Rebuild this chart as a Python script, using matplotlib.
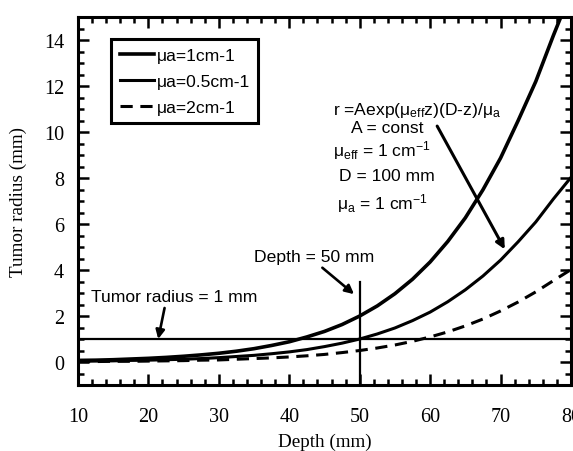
import matplotlib.pyplot as plt
from matplotlib.ticker import MultipleLocator

plt.rcParams['font.family'] = 'Liberation Serif'
plt.rcParams['mathtext.fontset'] = 'custom'
plt.rcParams['mathtext.rm'] = 'Liberation Sans'
plt.rcParams['mathtext.it'] = 'Liberation Sans'

depth = [10, 12.5, 15, 17.5, 20, 22.5, 25, 27.5, 30, 32.5, 35, 37.5, 40, 42.5, 45,
         47.5, 50, 52.5, 55, 57.5, 60, 62.5, 65, 67.5, 70, 72.5, 75, 77.5, 80]
r_mua1 = [0.07, 0.08, 0.10, 0.13, 0.16, 0.20, 0.25, 0.31, 0.38, 0.47, 0.58, 0.72, 0.88,
          1.09, 1.33, 1.63, 2.0, 2.44, 2.97, 3.60, 4.35, 5.24, 6.27, 7.49, 8.87, 10.5,
          12.2, 14.2, 16.1]
r_mua05 = [0.03, 0.04, 0.05, 0.07, 0.08, 0.10, 0.12, 0.15, 0.19, 0.24, 0.29, 0.36, 0.44,
           0.54, 0.67, 0.82, 1.0, 1.22, 1.48, 1.80, 2.17, 2.62, 3.14, 3.74, 4.43, 5.23,
           6.09, 7.09, 8.03]
r_mua2 = [0.02, 0.02, 0.03, 0.03, 0.04, 0.05, 0.06, 0.08, 0.09, 0.12, 0.15, 0.18, 0.22,
          0.27, 0.33, 0.41, 0.5, 0.61, 0.74, 0.90, 1.09, 1.31, 1.57, 1.87, 2.22, 2.61,
          3.05, 3.54, 4.02]
series_labels = ['μa=1cm-1', 'μa=0.5cm-1', 'μa=2cm-1']
tumor_radius = 1
depth_mark = 50

fig = plt.figure(figsize=(5.73, 4.52), dpi=100)
ax = fig.add_axes([0.136, 0.146, 0.8605, 0.814])

ax.plot(depth, r_mua1, '-', color='k', linewidth=2.6, label=series_labels[0])
ax.plot(depth, r_mua05, '-', color='k', linewidth=2.2, label=series_labels[1])
ax.plot(depth, r_mua2, '--', color='k', linewidth=2.2, dashes=(4, 2.5), label=series_labels[2])

ax.axhline(tumor_radius, color='k', linewidth=1.6)
ax.plot([depth_mark, depth_mark], [-1, 3.5], color='k', linewidth=1.6)

ax.set_xlim(10, 80)
ax.set_ylim(-1, 15)
ax.xaxis.set_major_locator(MultipleLocator(10))
ax.xaxis.set_minor_locator(MultipleLocator(2))
ax.yaxis.set_major_locator(MultipleLocator(2))
ax.yaxis.set_minor_locator(MultipleLocator(0.5))
ax.tick_params(which='both', direction='in', top=True, right=True, width=1.8, labelsize=14.5)
ax.tick_params(which='major', length=8)
ax.tick_params(which='minor', length=4.5)
ax.tick_params(axis='x', which='major', pad=16)
ax.tick_params(axis='y', which='major', pad=10)
for s in ax.spines.values():
    s.set_linewidth(2.2)

ax.set_xlabel('Depth (mm)', fontsize=13.8, labelpad=5)
ax.set_ylabel('Tumor radius (mm)', fontsize=13.8, labelpad=12)

sans = 'Liberation Sans'
fs = 12.6
arrow = dict(arrowstyle='-|>', color='k', lw=1.9, mutation_scale=13, shrinkA=0, shrinkB=0)

ax.text(23.7, 2.87, 'Tumor radius = 1 mm', ha='center', va='center', fontsize=fs, family=sans)
ax.annotate('', xy=(21.4, 1.0), xytext=(22.3, 2.35), arrowprops=arrow)

ax.text(43.5, 4.6, 'Depth = 50 mm', ha='center', va='center', fontsize=fs, family=sans)
ax.annotate('', xy=(49.2, 2.95), xytext=(44.7, 4.1), arrowprops=arrow)

ax.text(58.2, 11.0, r'r =Aexp($\mathrm{\mu_{eff}}$z)(D-z)/$\mathrm{\mu_a}$',
        ha='center', va='center', fontsize=fs, family=sans)
ax.text(53.9, 10.2, 'A = const', ha='center', va='center', fontsize=fs, family=sans)
ax.text(53.2, 9.26, r'$\mathrm{\mu_{eff}}$ = 1 cm$^{\mathrm{-1}}$',
        ha='center', va='center', fontsize=fs, family=sans)
ax.text(53.9, 8.1, 'D = 100 mm', ha='center', va='center', fontsize=fs, family=sans)
ax.text(53.2, 6.95, r'$\mathrm{\mu_a}$ = 1 cm$^{\mathrm{-1}}$',
        ha='center', va='center', fontsize=fs, family=sans)
ax.annotate('', xy=(70.6, 4.9), xytext=(61.0, 10.26),
            arrowprops=dict(arrowstyle='-|>', color='k', lw=2.2, mutation_scale=13,
                            shrinkA=0, shrinkB=0))

leg = ax.legend(loc='upper left', bbox_to_anchor=(0.067, 0.94),
                prop={'family': sans, 'size': fs}, fancybox=False, framealpha=1,
                edgecolor='k', handlelength=1.95, handletextpad=0.15, borderaxespad=0,
                labelspacing=0.6, borderpad=0.5)
leg.get_frame().set_linewidth(2.2)

plt.savefig('out.png', dpi=100)
